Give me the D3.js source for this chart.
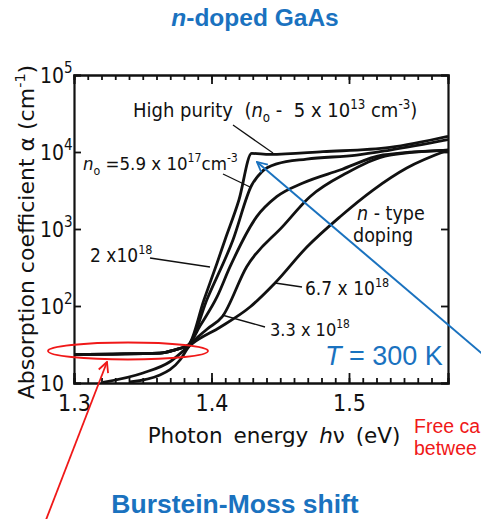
<!DOCTYPE html>
<html>
<head>
<meta charset="utf-8">
<script src="https://cdn.jsdelivr.net/npm/d3@7"></script>
<style>
  body { margin: 0; background: #fff; }
  svg { display: block; }
  text { font-family: "DejaVu Sans Condensed", "Liberation Sans Narrow", "DejaVu Sans", sans-serif; font-stretch: condensed; fill: #111; }
  .wide { font-family: "DejaVu Sans", sans-serif; font-stretch: normal; }
  .blue { font-family: "Liberation Sans", Arial, sans-serif; font-stretch: normal; fill: #1a72bf; }
  .red { font-family: "Liberation Sans", Arial, sans-serif; font-stretch: normal; fill: #f01818; }
</style>
</head>
<body>
<script>
// absorption spectra of n-type GaAs (photon energy in eV, alpha in cm^-1)
var hpE = [1.300, 1.3625, 1.3735, 1.3831, 1.3945, 1.404, 1.4098, 1.420, 1.4292, 1.4425, 1.4811, 1.5298, 1.572];
var hpA = [23.6, 24.5, 27, 31, 120, 360, 720, 2400, 9600, 9300, 10100, 11500, 16000];

var n59e17E = [1.300, 1.3625, 1.3735, 1.3831, 1.397, 1.4156, 1.4292, 1.4365, 1.4474, 1.4692, 1.5056, 1.5298, 1.572];
var n59e17A = [23.6, 24.5, 27, 31, 125, 720, 3700, 5500, 7000, 8100, 9100, 10600, 14500];

var n2e18E = [1.300, 1.3625, 1.3735, 1.3831, 1.3916, 1.404, 1.4135, 1.4329, 1.4474, 1.4665, 1.4935, 1.5247, 1.572];
var n2e18A = [23.6, 24.5, 27, 31, 55, 131, 324, 1445, 2626, 3954, 5834, 9140, 10600];

var n33e18E = [1.3407, 1.3625, 1.3771, 1.3831, 1.3967, 1.4077, 1.4256, 1.452, 1.4716, 1.4983, 1.5298, 1.572];
var n33e18A = [10.3, 12.7, 19.9, 29, 50, 72, 324, 1090, 2626, 5333, 9140, 10600];

var n67e18E = [1.3211, 1.3502, 1.3698, 1.3829, 1.3865, 1.4062, 1.428, 1.4462, 1.4692, 1.4935, 1.5175, 1.542, 1.572];
var n67e18A = [10.2, 13.5, 18.9, 29.4, 33, 53, 97, 199, 580, 1445, 3207, 6197, 10600];

var xTicks = [1.3, 1.4, 1.5];
var xTickLabels = ["1.3", "1.4", "1.5"];
var yTicks = [10, 100, 1000, 10000, 100000];
var yTickExp = ["", "2", "3", "4", "5"];

var width = 481, height = 519;
var svg = d3.select("body").append("svg").attr("width", width).attr("height", height);

var x = d3.scaleLinear().domain([1.3, 1.572]).range([74, 448]);
var y = d3.scaleLog().domain([10, 100000]).range([383, 75]);

// text with italic / sub / sup pieces
function rich(g, px, py, size, parts, anchor) {
  var t = g.append("text").attr("x", px).attr("y", py).attr("font-size", size)
    .attr("text-anchor", anchor || "start").attr("xml:space", "preserve");
  var cur = 0;
  parts.forEach(function (p) {
    var off = p.sup ? -size * 0.42 : (p.sub ? size * 0.25 : 0);
    var ts = t.append("tspan").attr("dy", off - cur).text(p.t);
    cur = off;
    if (p.sup || p.sub) ts.attr("font-size", size * 0.66);
    if (p.i) ts.attr("font-style", "italic");
  });
  return t;
}

svg.append("defs").append("clipPath").attr("id", "plotclip")
  .append("rect").attr("x", 74).attr("y", 75).attr("width", 374).attr("height", 308);

// axes (ticks point inward)
var minor = d3.range(131, 157).map(function (d) { return d / 100; });
svg.append("g").attr("transform", "translate(0,383)")
  .call(d3.axisBottom(x).tickValues(minor).tickSize(-5).tickFormat(""));
svg.append("g").attr("transform", "translate(0,75)")
  .call(d3.axisTop(x).tickValues(minor).tickSize(-5).tickFormat(""));
var xb = svg.append("g").attr("transform", "translate(0,383)")
  .call(d3.axisBottom(x).tickValues(xTicks).tickSize(-10).tickPadding(12)
    .tickFormat(function (d, i) { return xTickLabels[i]; }));
xb.selectAll("text").attr("font-size", 23).attr("font-family", null).attr("fill", "#111");
svg.append("g").attr("transform", "translate(0,75)")
  .call(d3.axisTop(x).tickValues([1.4, 1.5]).tickSize(-9).tickFormat(""));
svg.append("g").attr("transform", "translate(74,0)")
  .call(d3.axisLeft(y).tickValues(yTicks).tickSize(-7).tickFormat(""));
svg.append("g").attr("transform", "translate(448,0)")
  .call(d3.axisRight(y).tickValues(yTicks).tickSize(-7).tickFormat(""));
svg.selectAll(".domain").attr("stroke", "#111").attr("stroke-width", 2.2);
svg.selectAll(".tick line").attr("stroke", "#111").attr("stroke-width", 1.8);

// y tick labels 10^n
var yl = svg.append("g");
yTicks.forEach(function (v, i) {
  var t = yl.append("text").attr("x", 40).attr("y", y(v) + 8).attr("font-size", 21);
  t.append("tspan").text("10");
  if (yTickExp[i]) t.append("tspan").attr("dy", -10).attr("font-size", 15).text(yTickExp[i]);
});

// curves
var line = d3.line()
  .x(function (d) { return x(d[0]); })
  .y(function (d) { return y(d[1]); })
  .curve(d3.curveMonotoneX);

var series = [[hpE, hpA], [n59e17E, n59e17A], [n2e18E, n2e18A], [n33e18E, n33e18A], [n67e18E, n67e18A]];
svg.append("g").attr("clip-path", "url(#plotclip)")
  .selectAll("path").data(series).enter().append("path")
  .attr("d", function (s) { return line(d3.zip(s[0], s[1])); })
  .attr("fill", "none").attr("stroke", "#111").attr("stroke-width", 2.8)
  .attr("stroke-linejoin", "round");

// labels and leader lines
var ann = svg.append("g");
function leader(x1, y1, x2, y2) {
  ann.append("line").attr("x1", x1).attr("y1", y1).attr("x2", x2).attr("y2", y2)
    .attr("stroke", "#111").attr("stroke-width", 1.3);
}
rich(ann, 133, 117, 20, [{t: "High purity  ("}, {t: "n", i: true}, {t: "o", sub: true},
  {t: " -  5 x 10"}, {t: "13", sup: true}, {t: " cm"}, {t: "-3", sup: true}, {t: ")"}]);
leader(233, 125, 273, 153);
rich(ann, 83, 170, 18.5, [{t: "n", i: true}, {t: "o", sub: true}, {t: " =5.9 x 10"}, {t: "17", sup: true},
  {t: "cm"}, {t: "-3", sup: true}]);
leader(223, 174, 250, 187);
rich(ann, 90, 262, 19, [{t: "2 x10"}, {t: "18", sup: true}]);
leader(150, 258, 210, 267);
rich(ann, 357, 220, 19.5, [{t: "n", i: true}, {t: " - type"}]);
ann.append("text").attr("x", 353).attr("y", 242).attr("font-size", 19.5).text("doping");
rich(ann, 305, 295, 19, [{t: "6.7 x 10"}, {t: "18", sup: true}]);
leader(275, 283, 302, 287);
rich(ann, 270, 336, 18, [{t: "3.3 x 10"}, {t: "18", sup: true}]);
leader(222, 315, 265, 327);

// axis titles
rich(svg.append("g").attr("transform", "translate(34,232) rotate(-90)"), 0, 0, 22,
  [{t: "Absorption coefficient \u03b1 (cm"}, {t: "-1", sup: true}, {t: ")"}], "middle").attr("class", "wide");
rich(svg, 274, 443, 21.5, [{t: "Photon energy "}, {t: "h", i: true}, {t: "\u03bd (eV)"}], "middle")
  .attr("class", "wide").attr("word-spacing", 4);

// overlay annotations
svg.append("text").attr("class", "blue").attr("x", 255).attr("y", 26)
  .attr("text-anchor", "middle").attr("font-size", 24.5).attr("font-weight", "bold")
  .call(function (t) {
    t.append("tspan").attr("font-style", "italic").text("n");
    t.append("tspan").text("-doped GaAs");
  });
svg.append("text").attr("class", "blue").attr("x", 235).attr("y", 513)
  .attr("text-anchor", "middle").attr("font-size", 26.5).attr("font-weight", "bold")
  .text("Burstein-Moss shift");
svg.append("text").attr("class", "blue").attr("x", 325).attr("y", 365).attr("font-size", 27)
  .call(function (t) {
    t.append("tspan").attr("font-style", "italic").text("T");
    t.append("tspan").text(" = 300 K");
  });
svg.append("text").attr("class", "red").attr("x", 414).attr("y", 433).attr("font-size", 19.5).text("Free ca");
svg.append("text").attr("class", "red").attr("x", 414).attr("y", 455).attr("font-size", 19.5).text("betwee");

var defs = svg.select("defs");
[["blueHead", "#1a72bf"], ["redHead", "#f01818"]].forEach(function (m) {
  defs.append("marker").attr("id", m[0]).attr("viewBox", "0 0 12 12").attr("refX", 11).attr("refY", 6)
    .attr("markerWidth", 12).attr("markerHeight", 12).attr("markerUnits", "userSpaceOnUse")
    .attr("orient", "auto")
    .append("path").attr("d", "M1,1 L11,6 L1,11").attr("fill", "none")
    .attr("stroke", m[1]).attr("stroke-width", 1.8);
});
svg.append("line").attr("x1", 486).attr("y1", 357).attr("x2", 257).attr("y2", 162)
  .attr("stroke", "#1a72bf").attr("stroke-width", 2).attr("marker-end", "url(#blueHead)");
svg.append("ellipse").attr("cx", 128).attr("cy", 351).attr("rx", 80).attr("ry", 8.5)
  .attr("fill", "none").attr("stroke", "#f01818").attr("stroke-width", 1.8);
svg.append("line").attr("x1", 44).attr("y1", 525).attr("x2", 107).attr("y2", 362)
  .attr("stroke", "#f01818").attr("stroke-width", 1.8).attr("marker-end", "url(#redHead)");
</script>
</body>
</html>
